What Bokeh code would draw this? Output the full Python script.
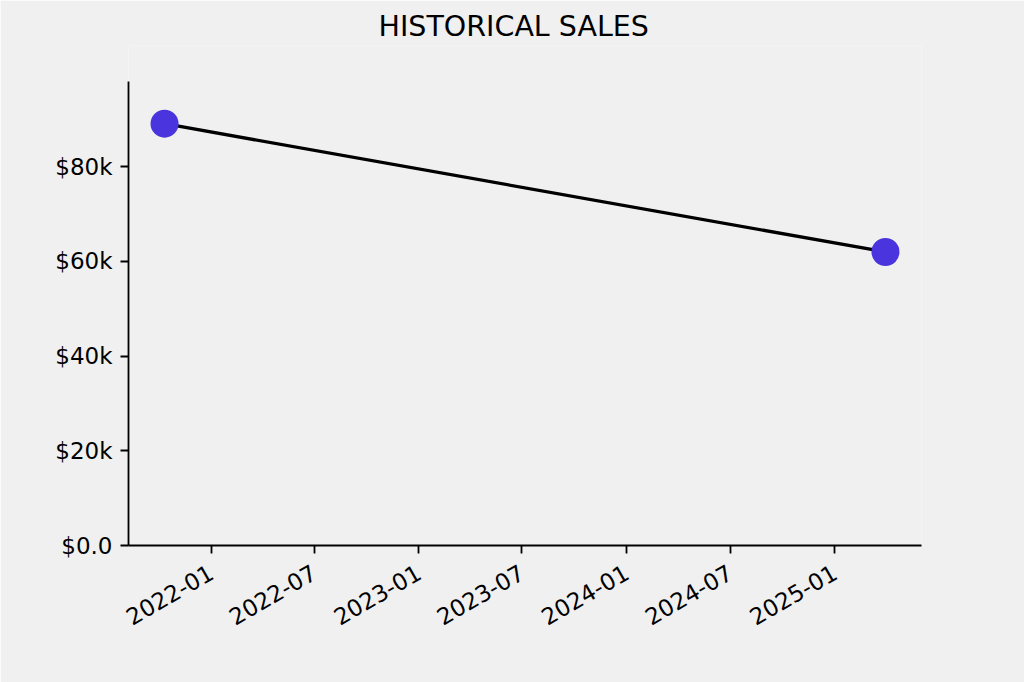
import math
from datetime import datetime
from bokeh.plotting import figure
from bokeh.models import FixedTicker, DatetimeTickFormatter, Range1d, ColumnDataSource
from bokeh.embed import file_html
from bokeh.resources import INLINE

# ---- data ----
dates = ["2021-10-11", "2025-03-31"]
sales = [89100, 62000]
x_tick_dates = ["2022-01-01", "2022-07-01", "2023-01-01", "2023-07-01",
                "2024-01-01", "2024-07-01", "2025-01-01"]
y_ticks = [0, 20000, 40000, 60000, 80000]
y_tick_labels = ["$0.0", "$20k", "$40k", "$60k", "$80k"]
title_text = "HISTORICAL SALES"

def ms(d):
    return datetime.strptime(d, "%Y-%m-%d").timestamp() * 1000.0

xs = [datetime.strptime(d, "%Y-%m-%d") for d in dates]
xms = [ms(d) for d in dates]
span = xms[1] - xms[0]
x0 = xms[0] - 0.05 * span
x1 = xms[1] + 0.05 * span

BG = "#f0f0f0"
FONT = "DejaVu Sans"

# layout (pixels)
FRAME_TOP = 45        # top of the drawing frame (room under the title)
AXIS_TOP = 81         # where the y-axis spine ends
FRAME_BOTTOM = 545
y_axis_top = max(sales) * 1.1
y_end = y_axis_top * (FRAME_BOTTOM - FRAME_TOP) / (FRAME_BOTTOM - AXIS_TOP)

p = figure(width=1024, height=682, x_axis_type="datetime", title=title_text,
           output_backend="svg", toolbar_location=None,
           x_range=Range1d(x0, x1), y_range=Range1d(0, y_end),
           min_border_left=128, min_border_right=103,
           min_border_top=FRAME_TOP, min_border_bottom=682 - FRAME_BOTTOM)
p.background_fill_color = BG
p.border_fill_color = BG
p.outline_line_color = None
p.xgrid.visible = False
p.ygrid.visible = False

p.title.align = "left"
p.title.offset = 250
p.title.standoff = 5
p.title.text_font = FONT
p.title.text_font_size = "28.5px"
p.title.text_font_style = "normal"
p.title.text_color = "black"

src = ColumnDataSource(dict(x=xs, y=sales))
p.line("x", "y", source=src, line_color="black", line_width=3.3)
p.scatter("x", "y", source=src, size=28, fill_color="#4A34DD", line_color=None)

# x axis
p.xaxis.ticker = FixedTicker(ticks=[ms(d) for d in x_tick_dates])
fmt = "%Y-%m"
p.xaxis.formatter = DatetimeTickFormatter(
    milliseconds=fmt, seconds=fmt, minsec=fmt, minutes=fmt, hourmin=fmt,
    hours=fmt, days=fmt, months=fmt, years=fmt)
p.xaxis.major_label_orientation = math.pi / 6

# y axis
p.yaxis.ticker = FixedTicker(ticks=y_ticks)
p.yaxis.major_label_overrides = {t: l for t, l in zip(y_ticks, y_tick_labels)}
p.yaxis.bounds = (0, y_axis_top)

for ax in (p.xaxis[0], p.yaxis[0]):
    ax.axis_line_width = 1.8
    ax.axis_line_color = "black"
    ax.major_tick_line_width = 1.8
    ax.major_tick_line_color = "black"
    ax.major_tick_out = 8
    ax.major_tick_in = 0
    ax.minor_tick_out = 0
    ax.minor_tick_in = 0
    ax.major_label_text_font = FONT
    ax.major_label_text_font_size = "23px"
    ax.major_label_text_color = "black"
p.yaxis.major_label_standoff = 8
p.xaxis.major_label_standoff = 17

open("out.html", "w").write(file_html(p, INLINE))
